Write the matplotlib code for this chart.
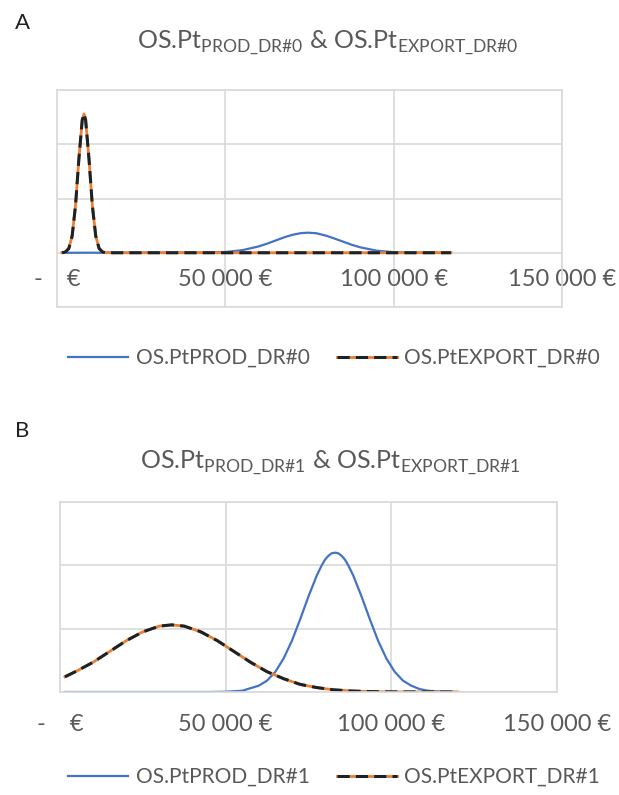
import matplotlib
matplotlib.use("Agg")
import matplotlib.pyplot as plt

plt.rcParams['font.family'] = ['Lato', 'DejaVu Sans']
plt.rcParams['mathtext.fontset'] = 'custom'
plt.rcParams['mathtext.rm'] = 'Lato'

# values (y in gridline units, axis labels hidden)
x_prod0 = [1500, 45000, 50000, 55000, 60000, 62500, 65000, 67500, 70000, 72500, 74500,
           77000, 80000, 82500, 85000, 87500, 90000, 95000, 100000, 105000, 117000]
y_prod0 = [0, 0.003, 0.014, 0.047, 0.118, 0.17, 0.227, 0.285, 0.332, 0.362, 0.37,
           0.36, 0.314, 0.26, 0.204, 0.148, 0.101, 0.038, 0.011, 0.002, 0]

x_export0 = [1500, 2500, 3500, 4500, 5500, 6500, 7500, 8000, 8500, 9500, 10500,
             11500, 12500, 13500, 14500, 117000]
y_export0 = [0, 0.014, 0.077, 0.31, 0.87, 1.73, 2.45, 2.56, 2.45, 1.73, 0.87,
             0.31, 0.08, 0.014, 0, 0]

x_prod1 = [1500, 45000, 50000, 55000, 60000, 62500, 65000, 67500, 70000, 72500, 75000,
           77500, 79000, 80000, 81000, 82000, 83000, 84000, 85000, 86000, 87000,
           88500, 91000, 93500, 96000, 98500, 101000, 103500, 106000, 108500, 111000,
           116000, 120000]
y_prod1 = [0, 0, 0.004, 0.02, 0.10, 0.18, 0.32, 0.53, 0.81, 1.15, 1.51,
           1.84, 2.0, 2.09, 2.15, 2.19, 2.20, 2.19, 2.15, 2.09, 2.0,
           1.84, 1.51, 1.15, 0.81, 0.53, 0.32, 0.18, 0.10, 0.047, 0.02,
           0.004, 0]

x_export1 = [1500, 5000, 10000, 15000, 20000, 25000, 30000, 33700, 37500, 42500, 47500,
             52500, 57500, 62500, 67500, 72500, 77500, 82500, 87500, 92500, 97500,
             105000, 120000]
y_export1 = [0.24, 0.33, 0.47, 0.64, 0.81, 0.95, 1.04, 1.06, 1.04, 0.95, 0.81,
             0.64, 0.47, 0.32, 0.21, 0.12, 0.07, 0.035, 0.017, 0.008, 0.003,
             0.001, 0]

xticks = [0, 50000, 100000, 150000]
xtick_labels = ['-    €', '50 000 €', '100 000 €', '150 000 €']

BLUE = '#4472C4'
ORANGE = '#ED7D31'
DASH = '#1c2326'
GRID = '#D9D9D9'
TEXT = '#595959'

fig = plt.figure(figsize=(6.19, 7.95), dpi=100)
axA = fig.add_axes([57/619, 1-307/795, (562-57)/619, (307-90)/795])
axB = fig.add_axes([60/619, 1-692/795, (557-60)/619, (692-502)/795])


def style(ax, ymin, pad):
    ax.set_xlim(0, 150000)
    ax.set_ylim(ymin, 3)
    ax.set_xticks(xticks)
    ax.set_xticklabels(xtick_labels)
    ax.set_yticks(range(ymin, 4))
    ax.set_yticklabels([])
    ax.tick_params(axis='both', length=0)
    ax.tick_params(axis='x', pad=pad, labelsize=17, labelcolor=TEXT)
    ax.grid(True, color=GRID, lw=1.2)
    ax.set_axisbelow(True)
    for s in ax.spines.values():
        s.set_color(GRID)
        s.set_linewidth(1.2)


def draw(ax, xp, yp, xe, ye, lab_p, lab_e, leg_y):
    lp, = ax.plot(xp, yp, color=BLUE, lw=1.6)
    lo, = ax.plot(xe, ye, color=ORANGE, lw=2.0)
    ld, = ax.plot(xe, ye, color=DASH, lw=2.2, linestyle=(0, (4, 2)))
    fig.legend([lp, (lo, ld)], [lab_p, lab_e], loc='center',
               bbox_to_anchor=(334/619, 1 - leg_y/795), ncol=2, frameon=False,
               fontsize=15, labelcolor=TEXT, handlelength=2.9,
               handletextpad=0.35, columnspacing=1.3)


style(axA, -1, -27)
draw(axA, x_prod0, y_prod0, x_export0, y_export0,
     'OS.PtPROD_DR#0', 'OS.PtEXPORT_DR#0', 358)

style(axB, 0, 16)
draw(axB, x_prod1, y_prod1, x_export1, y_export1,
     'OS.PtPROD_DR#1', 'OS.PtEXPORT_DR#1', 777)

fig.text(22/619, 1 - 23/795, 'A', fontsize=16, color='#222222', ha='center', va='center')
fig.text(22/619, 1 - 431/795, 'B', fontsize=16, color='#222222', ha='center', va='center')
fig.text(328/619, 1 - 42/795,
         r'OS.Pt$_{\mathregular{PROD\_DR\#0}}$ & OS.Pt$_{\mathregular{EXPORT\_DR\#0}}$',
         fontsize=18, color=TEXT, ha='center', va='center')
fig.text(330/619, 1 - 462/795,
         r'OS.Pt$_{\mathregular{PROD\_DR\#1}}$ & OS.Pt$_{\mathregular{EXPORT\_DR\#1}}$',
         fontsize=18, color=TEXT, ha='center', va='center')

fig.savefig('out.png', dpi=100)
